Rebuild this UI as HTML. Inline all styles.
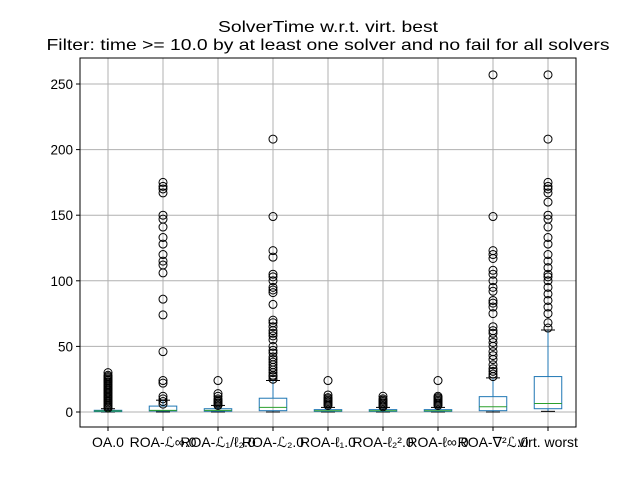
<!DOCTYPE html>
<html><head><meta charset="utf-8"><style>body{margin:0;background:#fff}svg{display:block;font-family:"Liberation Sans","DejaVu Sans",sans-serif}</style></head>
<body>
<svg id="c" width="640" height="480"></svg>
<script>
const categories=["OA.0","ROA-ℒ∞.0","ROA-ℒ₁/ℓ₂.0","ROA-ℒ₂.0","ROA-ℓ₁.0","ROA-ℓ₂².0","ROA-ℓ∞.0","ROA-∇²ℒ.0","virt. worst"];
const q1=[0.3,0.8,0.6,1,0.5,0.5,0.5,1,2.5];
const medians=[0.8,1.2,1.2,3.5,1,1,1,4,6.5];
const q3=[1.3,4.5,2.5,10.5,1.8,1.8,1.8,11.7,27];
const whiskLo=[0,0,0,0,0,0,0,0,0.5];
const whiskHi=[2.5,9,5,24,3.5,3.5,3.5,26,62.5];
const fliers=[
[3,4,5,6,7,8,9,10,11,12,13,14,15,16,17,18,19,20,21,22,23,24,25,26,27,28,30],
[6,8,10,12,22,24,46,74,86,106,112,115,120,128,133,141,147,150,167,170,172,175],
[5,6,7,8,9,10,12,14,24],
[25,27,28,30,32,34,36,38,40,42,45,47,50,55,58,60,62,65,68,70,82,91,93,95,100,103,105,118,123,149,208],
[5,6,7,8,9,10,11,13,24],
[4,5,6,7,8,9,10,12],
[5,6,7,8,9,10,11,12,24],
[27,29,31,33,36,40,43,46,50,53,56,60,62,65,75,80,83,85,92,95,100,105,108,117,120,123,149,257],
[64,68,75,80,85,90,95,100,103,105,110,115,120,128,133,141,147,150,160,167,170,172,175,208,257]];
const yTicks=[0,50,100,150,200,250];
const L=80,R=576,T=58,B=427;
const y=v=>412-v*1.312;
const x=i=>108+i*55;
const svg=document.getElementById('c');const NS='http://www.w3.org/2000/svg';
function mk(t,a,p){const e=document.createElementNS(NS,t);for(const k in a)e.setAttribute(k,a[k]);(p||svg).appendChild(e);return e;}
yTicks.forEach(v=>{const g=mk('line',{x1:L,x2:R,y1:y(v),y2:y(v),stroke:'#b0b0b0','stroke-width':1});


mk('line',{x1:L-4,x2:L,y1:y(v),y2:y(v),stroke:'#000'});
const t=mk('text',{x:L-7,y:y(v)+5,'text-anchor':'end','font-size':13.5});t.textContent=v;

});
categories.forEach((c,i)=>{const g=mk('line',{x1:x(i),x2:x(i),y1:T,y2:B,stroke:'#b0b0b0'});


mk('line',{x1:x(i),x2:x(i),y1:B,y2:B+4,stroke:'#000'});
const t=mk('text',{x:x(i),y:B+20,'text-anchor':'middle','font-size':14});t.textContent=c;

});
categories.forEach((c,i)=>{const g=mk('g',{});


const cx=x(i),w=13.75,cw=7;
mk('line',{x1:cx,x2:cx,y1:y(q3[i]),y2:y(whiskHi[i]),stroke:'#1f77b4'},g);
mk('line',{x1:cx,x2:cx,y1:y(q1[i]),y2:y(whiskLo[i]),stroke:'#1f77b4'},g);
mk('line',{x1:cx-cw,x2:cx+cw,y1:y(whiskHi[i]),y2:y(whiskHi[i]),stroke:'#000'},g);
mk('line',{x1:cx-cw,x2:cx+cw,y1:y(whiskLo[i]),y2:y(whiskLo[i]),stroke:'#000'},g);
mk('rect',{x:cx-w,y:y(q3[i]),width:2*w,height:Math.max(1,y(q1[i])-y(q3[i])),fill:'none',stroke:'#1f77b4'},g);
mk('line',{x1:cx-w,x2:cx+w,y1:y(medians[i]),y2:y(medians[i]),stroke:'#2ca02c'},g);
fliers[i].forEach(v=>{const p=mk('circle',{cx:cx,cy:y(v),r:4,fill:'none',stroke:'#000'},g);

});});
const f=mk('rect',{x:L,y:T,width:R-L,height:B-T,fill:'none',stroke:'#000'});


const t1=mk('text',{x:328,y:32,'text-anchor':'middle','font-size':16,textLength:220,lengthAdjust:'spacingAndGlyphs'});t1.textContent='SolverTime w.r.t. virt. best';


const t2=mk('text',{x:328,y:50,'text-anchor':'middle','font-size':16,textLength:563,lengthAdjust:'spacingAndGlyphs'});t2.textContent='Filter: time >= 10.0 by at least one solver and no fail for all solvers';


</script>
</body></html>
